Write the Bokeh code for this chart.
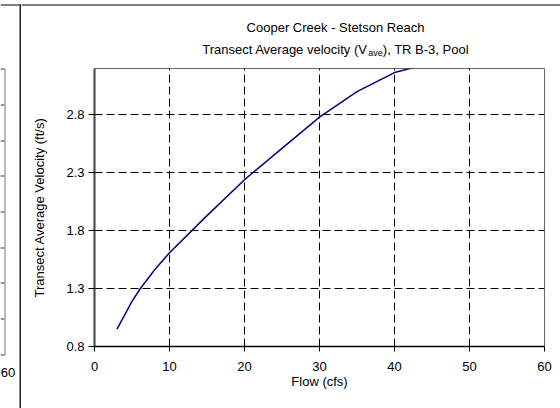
from bokeh.plotting import figure
from bokeh.layouts import row, column
from bokeh.models import Range1d, FixedTicker
from bokeh.core.properties import value
from bokeh.embed import file_html
from bokeh.resources import INLINE

# Rating curve: transect-averaged velocity versus discharge
flow_cfs = [3, 5, 6, 8, 10, 15, 20, 25, 30, 35, 40, 45]
velocity_fps = [0.95, 1.19, 1.29, 1.46, 1.61, 1.93, 2.24, 2.51, 2.78, 3.00, 3.165, 3.25]

x_ticks = [0, 10, 20, 30, 40, 50, 60]
y_ticks = [0.8, 1.3, 1.8, 2.3, 2.8]

title_line1 = "Cooper Creek - Stetson Reach"
title_line2_head = "Transect Average velocity (V"
title_line2_sub = "ave"
title_line2_tail = "), TR B-3, Pool"
x_label = "Flow (cfs)"
y_label = "Transect Average Velocity (ft/s)"
neighbour_tick = "60"

FONT = "Liberation Sans"
W, H = 560, 408
CELL_X = 21           # width of the strip holding the neighbouring cell's edge
HEAD_H = 68           # height of the title band
FRAME_L, FRAME_R, FRAME_B = 94, 544, 346
TITLE_CX = 335        # titles are centred on the whole chart area, not the plot frame


def blank(width, height, x0, x1, y0, y1):
    """A bare figure whose data coordinates are its own pixels (y downwards)."""
    f = figure(width=width, height=height, output_backend="svg", toolbar_location=None,
               x_range=Range1d(x0, x1), y_range=Range1d(y1, y0),
               x_axis_type=None, y_axis_type=None,
               min_border=0, min_border_left=0, min_border_right=0,
               min_border_top=0, min_border_bottom=0,
               background_fill_color="white", border_fill_color="white")
    f.frame_align = False
    f.outline_line_color = None
    f.grid.visible = False
    return f


# ---- left strip: table rule, cell divider and the edge of the next chart ----
left = blank(CELL_X, H, 0, CELL_X, 0, H)
left.segment(x0=[0], y0=[4.5], x1=[CELL_X], y1=[4.5], line_color="black", line_width=1)
left.quad(left=[19], right=[21], top=[4], bottom=[H], fill_color="#222222", line_color=None)
nb_top, nb_bot = 68, 354
stub_y = [nb_top + k * (nb_bot - nb_top) / 8 for k in range(9)]
left.segment(x0=[0] * len(stub_y), y0=[round(y) + 0.5 for y in stub_y],
             x1=[4] * len(stub_y), y1=[round(y) + 0.5 for y in stub_y],
             line_color="#333333", line_width=1)
left.segment(x0=[4.5], y0=[nb_top], x1=[4.5], y1=[nb_bot + 1], line_color="#777777", line_width=1)
left.text(x=[7.5], y=[372], text=[neighbour_tick], text_align="center", text_baseline="middle",
          text_font=value(FONT), text_font_size=value("13px"), text_color="black")

# ---- title band ----
head = blank(W - CELL_X, HEAD_H, CELL_X, W, 0, HEAD_H)
head.segment(x0=[CELL_X], y0=[4.5], x1=[W], y1=[4.5], line_color="black", line_width=1)

ARIAL = {
    " ": 278, "(": 333, ")": 333, ",": 278, "-": 333, "3": 556,
    "A": 667, "B": 667, "C": 722, "P": 667, "R": 722, "S": 667, "T": 611, "V": 667,
    "a": 556, "c": 500, "e": 556, "g": 556, "h": 556, "i": 222, "k": 500, "l": 222,
    "n": 556, "o": 556, "p": 556, "r": 333, "s": 500, "t": 278, "v": 500, "y": 500,
}


def text_width(s, size):
    return sum(ARIAL.get(ch, 556) for ch in s) * size / 1000.0


T_SIZE, SUB_SIZE = 13.0, 9.0
head.text(x=[TITLE_CX], y=[27], text=[title_line1], text_align="center", text_baseline="middle",
          text_font=value(FONT), text_font_size=value(f"{T_SIZE}px"), text_color="black")

w1 = text_width(title_line2_head, T_SIZE)
w2 = text_width(title_line2_sub, SUB_SIZE)
w3 = text_width(title_line2_tail, T_SIZE)
x0 = TITLE_CX - (w1 + w2 + w3) / 2
line2_y = 49
head.text(x=[x0, x0 + w1 + w2], y=[line2_y, line2_y], text=[title_line2_head, title_line2_tail],
          text_align="left", text_baseline="middle",
          text_font=value(FONT), text_font_size=value(f"{T_SIZE}px"), text_color="black")
head.text(x=[x0 + w1], y=[line2_y + 3], text=[title_line2_sub],
          text_align="left", text_baseline="middle",
          text_font=value(FONT), text_font_size=value(f"{SUB_SIZE}px"), text_color="black")

# ---- the chart itself ----
p = figure(
    width=W - CELL_X, height=H - HEAD_H, output_backend="svg", toolbar_location=None,
    x_range=Range1d(0, 60), y_range=Range1d(0.8, 3.2),
    min_border_left=FRAME_L - CELL_X, min_border_right=W - FRAME_R,
    min_border_top=0, min_border_bottom=H - FRAME_B,
    background_fill_color="white", border_fill_color="white",
)
p.frame_align = False
p.outline_line_color = "#666666"
p.outline_line_width = 1

p.line(flow_cfs, velocity_fps, line_color="#000080", line_width=1.5)

p.xaxis.ticker = FixedTicker(ticks=x_ticks)
p.yaxis.ticker = FixedTicker(ticks=y_ticks)
for ax in (p.xaxis[0], p.yaxis[0]):
    ax.minor_tick_line_color = None
    ax.major_tick_in = 0
    ax.major_tick_line_color = "black"
    ax.major_label_text_font = FONT
    ax.major_label_text_font_size = "13px"
    ax.major_label_text_color = "black"
    ax.axis_label_text_font = FONT
    ax.axis_label_text_font_size = "13px"
    ax.axis_label_text_font_style = "normal"
    ax.axis_label_text_color = "black"

p.xaxis.axis_label = x_label
p.xaxis.axis_line_color = "black"
p.xaxis.axis_line_width = 1.5
p.xaxis.major_tick_out = 5
p.xaxis.major_label_standoff = 10
p.xaxis.axis_label_standoff = 0

p.yaxis.axis_label = y_label
p.yaxis.axis_line_color = "#404040"
p.yaxis.axis_line_width = 2
p.yaxis.major_tick_out = 6
p.yaxis.major_label_standoff = 4
p.yaxis.axis_label_standoff = 16

for g in (p.xgrid[0], p.ygrid[0]):
    g.grid_line_color = "black"
    g.grid_line_dash = "8 4"
    g.grid_line_width = 1

layout = row(left, column(head, p, spacing=0), spacing=0)
open("out.html", "w").write(file_html(layout, INLINE))
